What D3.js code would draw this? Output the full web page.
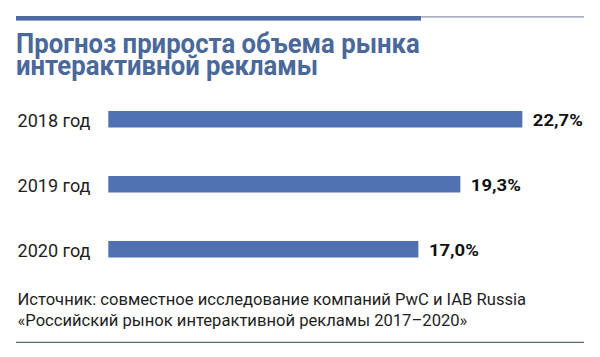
<!DOCTYPE html>
<html>
<head>
<meta charset="utf-8">
<script src="https://cdn.jsdelivr.net/npm/d3@7"></script>
<style>
  html, body { margin: 0; padding: 0; background: #ffffff; }
  svg { display: block; }
</style>
</head>
<body>
<div id="chart"></div>
<script>
const categories = ["2018 год", "2019 год", "2020 год"];
const values = [22.7, 19.3, 17.0];
const valueLabels = ["22,7%", "19,3%", "17,0%"];
const titleLines = ["Прогноз прироста объема рынка", "интерактивной рекламы"];
const sourceLines = [
  "Источник: совместное исследование компаний PwC и IAB Russia",
  "«Российский рынок интерактивной рекламы 2017–2020»"
];

const W = 600, H = 357;
const svg = d3.select("#chart").append("svg").attr("width", W).attr("height", H);

// horizontally fit text to a target width (condensed look)
function hscale(sel, x, factor) {
  sel.attr("transform", `translate(${x},0) scale(${factor},1) translate(${-x},0)`);
}

// top rules
svg.append("line").attr("x1", 16).attr("x2", 584).attr("y1", 16.8).attr("y2", 16.8)
  .attr("stroke", "#8693a8").attr("stroke-width", 1.3);
svg.append("rect").attr("x", 16).attr("y", 16).attr("width", 405).attr("height", 4.6)
  .attr("fill", "#4d6ba0");

// title (one text element, two lines)
const title = svg.append("text")
  .attr("font-family", "Roboto, 'Open Sans', sans-serif").attr("font-weight", 700)
  .attr("font-size", 27.5).attr("fill", "#4a6899");
const tsp1 = title.append("tspan").attr("x", 16).attr("y", 53).text(titleLines[0]);
title.append("tspan").attr("x", 16).attr("y", 75.5).text(titleLines[1]);
const tScale = 404 / tsp1.node().getComputedTextLength();
hscale(title, 16, tScale);

// scales
const x = d3.scaleLinear().domain([0, 25]).range([108.3, 108.3 + 25 * 18.24]);
const y = d3.scaleBand().domain(categories).range([62.5, 306]).paddingInner(0.746).paddingOuter(0.746);

// bars
svg.selectAll("rect.bar").data(values).enter().append("rect")
  .attr("class", "bar")
  .attr("x", x(0))
  .attr("y", (d, i) => y(categories[i]))
  .attr("width", d => x(d) - x(0))
  .attr("height", y.bandwidth())
  .attr("fill", "#5071b1");

// category labels
const catSel = svg.selectAll("text.cat").data(categories).enter().append("text")
  .attr("class", "cat")
  .attr("x", 17.5)
  .attr("y", d => y(d) + y.bandwidth() / 2 + 7.5)
  .attr("font-family", "Roboto, sans-serif").attr("font-size", 17.5)
  .attr("fill", "#1e1e1e")
  .text(d => d);
const catScale = 73 / catSel.nodes()[0].getComputedTextLength();
catSel.each(function () { hscale(d3.select(this), 17.5, catScale); });

// value labels
const valSel = svg.selectAll("text.val").data(values).enter().append("text")
  .attr("class", "val")
  .attr("x", d => x(d) + 10.5)
  .attr("y", (d, i) => y(categories[i]) + y.bandwidth() / 2 + 7)
  .attr("font-family", "Roboto, sans-serif").attr("font-weight", 700).attr("font-size", 16.5)
  .attr("fill", "#111111")
  .text((d, i) => valueLabels[i]);
const valScale = 50 / valSel.nodes()[0].getComputedTextLength();
valSel.each(function (d) { hscale(d3.select(this), x(d) + 10.5, valScale); });

// source (one text element, two lines)
const source = svg.append("text")
  .attr("font-family", "Roboto, sans-serif").attr("font-size", 16.2).attr("fill", "#1e1e1e");
const ssp1 = source.append("tspan").attr("x", 17.5).attr("y", 305).text(sourceLines[0]);
source.append("tspan").attr("x", 17.5).attr("y", 326).text(sourceLines[1]);
const sScale = 508.5 / ssp1.node().getComputedTextLength();
hscale(source, 17.5, sScale);

// bottom rule
svg.append("line").attr("x1", 16).attr("x2", 584).attr("y1", 342.3).attr("y2", 342.3)
  .attr("stroke", "#5d6775").attr("stroke-width", 1.3);
</script>
</body>
</html>
